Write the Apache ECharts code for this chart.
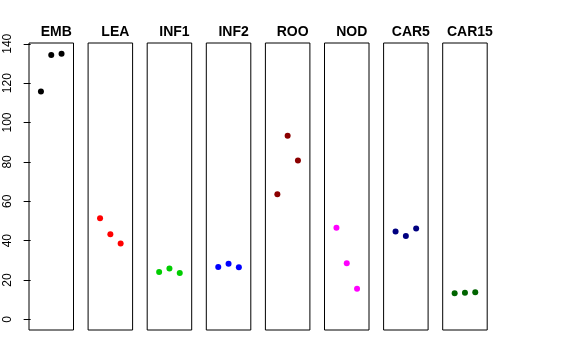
<!DOCTYPE html>
<html><head><meta charset="utf-8">
<script src="https://cdn.jsdelivr.net/npm/echarts@6/dist/echarts.min.js"></script>
<style>html,body{margin:0;padding:0;background:#fff}#c{width:576px;height:360px}</style>
</head><body><div id="c"></div>
<script>
const categories = ['EMB','LEA','INF1','INF2','ROO','NOD','CAR5','CAR15'];
const colors = ['#000000','#ff0000','#00cd00','#0000ff','#8b0000','#ff00ff','#000080','#006400'];
const xPositions = [1,2,3];
const EMB = [115.7, 134.3, 135.0];
const LEA = [51.4, 43.2, 38.6];
const INF1 = [24.1, 25.8, 23.6];
const INF2 = [26.6, 28.2, 26.5];
const ROO = [63.6, 93.3, 80.7];
const NOD = [46.6, 28.5, 15.5];
const CAR5 = [44.7, 42.3, 46.2];
const CAR15 = [13.3, 13.5, 13.8];
const seriesValues = [EMB, LEA, INF1, INF2, ROO, NOD, CAR5, CAR15];
const yTicks = [0,20,40,60,80,100,120,140];

(function(){
const grids=[], xAxes=[], yAxes=[], series=[], titles=[];
const left0=29, step=59.1, w=44.5, gTop=43, gH=287;
categories.forEach((c,i)=>{
  const l = left0 + step*i;
  grids.push({left:l, top:gTop, width:w, height:gH, show:true, borderColor:'#000', borderWidth:1, backgroundColor:'transparent'});
  xAxes.push({gridIndex:i, type:'value', min:-0.16, max:4.16, show:false});
  yAxes.push({gridIndex:i, type:'value', min:-5.4, max:140.4, show:i===0,
    splitLine:{show:false},
    axisLine:{show:false},
    axisTick:{show:true, length:7, customValues:yTicks, lineStyle:{color:'#000'}},
    axisLabel:{show:true, customValues:yTicks, rotate:90, margin:15, color:'#000', fontSize:12, fontFamily:'Liberation Sans, Arial, sans-serif'}
  });
  series.push({type:'scatter', xAxisIndex:i, yAxisIndex:i, symbolSize:6,
    itemStyle:{color:colors[i], opacity:1},
    data: xPositions.map((x,k)=>[x, seriesValues[i][k]]), silent:true, animation:false});
  titles.push({text:c, left:l + w/2, top:20, textAlign:'center',
    textStyle:{fontSize:14, fontWeight:'bold', color:'#000', fontFamily:'Liberation Sans, Arial, sans-serif'}});
});
const chart = echarts.init(document.getElementById('c'), null, {renderer:'canvas'});
chart.setOption({animation:false, title:titles, grid:grids, xAxis:xAxes, yAxis:yAxes, series:series});
})();
</script></body></html>
